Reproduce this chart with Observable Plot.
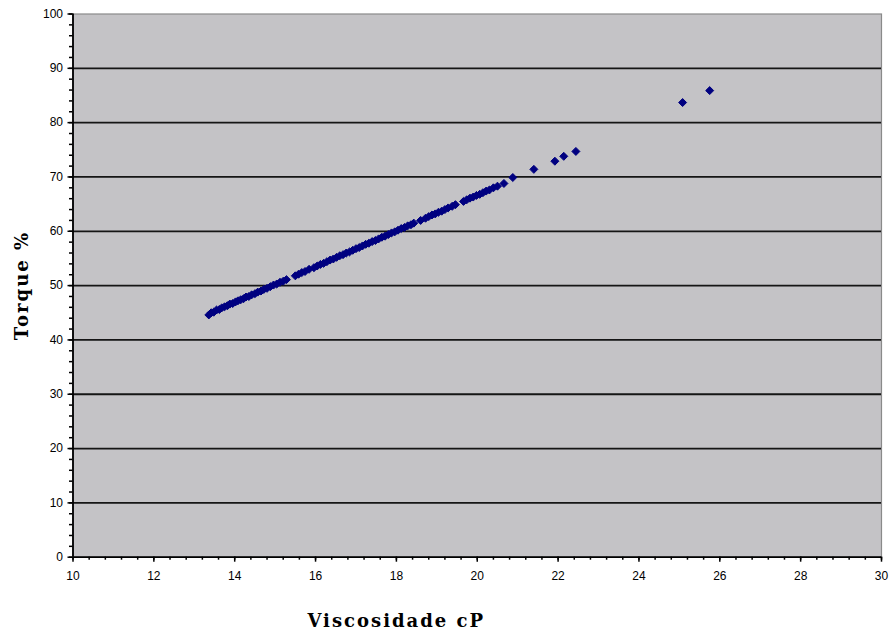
<!DOCTYPE html>
<html>
<head>
<meta charset="utf-8">
<script src="https://cdn.jsdelivr.net/npm/d3@7"></script>
<script src="https://cdn.jsdelivr.net/npm/@observablehq/plot@0.6"></script>
<style>
  html, body { margin: 0; padding: 0; background: #ffffff; }
  #chart { width: 890px; height: 636px; }
</style>
</head>
<body>
<div id="chart"></div>
<script>
// Viscosity (cP) readings
const viscosidade = [
  13.36, 13.42, 13.48, 13.55, 13.62, 13.68, 13.75, 13.82, 13.88, 13.95,
  14.02, 14.08, 14.15, 14.22, 14.28, 14.35, 14.42, 14.50, 14.57, 14.65,
  14.72, 14.80, 14.88, 14.96, 15.04, 15.12, 15.20, 15.28,
  15.50,
  15.58, 15.66, 15.74, 15.84,
  15.96, 16.04, 16.12, 16.20, 16.28, 16.36, 16.44, 16.52, 16.60, 16.68,
  16.76, 16.84, 16.92, 17.00, 17.08, 17.16, 17.24, 17.32, 17.40, 17.48,
  17.56, 17.64, 17.72, 17.80, 17.88, 17.96, 18.04, 18.12, 18.20, 18.28,
  18.36, 18.43,
  18.60,
  18.72, 18.80, 18.88, 18.96, 19.04, 19.12, 19.20, 19.28, 19.38, 19.46,
  19.66, 19.74, 19.82, 19.90, 19.98, 20.06, 20.14, 20.22, 20.30, 20.40,
  20.50,
  20.66, 20.88, 21.40, 21.92, 22.14, 22.44,
  25.08, 25.75
];

// Torque (%) measured at each viscosity
const torque = [
  44.6, 45.0, 45.1, 45.5, 45.6, 45.9, 46.1, 46.3, 46.6, 46.7,
  47.0, 47.2, 47.4, 47.6, 47.9, 48.0, 48.3, 48.5, 48.8, 49.0,
  49.3, 49.5, 49.8, 50.1, 50.3, 50.6, 50.8, 51.1,
  51.8,
  52.1, 52.4, 52.6, 53.0,
  53.3, 53.6, 53.9, 54.1, 54.4, 54.7, 54.9, 55.2, 55.5, 55.7,
  56.0, 56.2, 56.5, 56.8, 57.0, 57.3, 57.6, 57.8, 58.1, 58.3,
  58.6, 58.9, 59.1, 59.4, 59.7, 59.9, 60.2, 60.5, 60.7, 61.0,
  61.2, 61.5,
  62.0,
  62.4, 62.7, 63.0, 63.2, 63.5, 63.7, 64.0, 64.3, 64.6, 64.9,
  65.5, 65.8, 66.1, 66.3, 66.6, 66.8, 67.1, 67.4, 67.6, 68.0,
  68.3,
  68.8, 69.9, 71.4, 72.9, 73.8, 74.7,
  83.7, 85.9
];

const xMajor = d3.range(10, 31, 2);
const xMinor = d3.range(0, 51).map(i => 10 + i * 0.4);
const yMajor = d3.range(0, 101, 10);
const yMinor = d3.range(0, 101, 2);
const gridLines = d3.range(10, 91, 10);

const data = viscosidade.map((v, i) => ({viscosidade: v, torque: torque[i]}));

const tickFont = "Liberation Sans, Arial, sans-serif";
const titleFont = "DejaVu Serif, serif";

const chart = Plot.plot({
  width: 890,
  height: 636,
  marginLeft: 72.5,
  marginRight: 9,
  marginTop: 13.5,
  marginBottom: 79.3,
  style: {background: "#ffffff", fontFamily: tickFont, fontSize: "12px", color: "#000"},
  x: {domain: [10, 30]},
  y: {domain: [0, 100]},
  marks: [
    Plot.frame({fill: "#c4c3c6", stroke: "#8a8a8a", strokeWidth: 1.2}),
    Plot.ruleY(gridLines, {stroke: "#151515", strokeWidth: 1.8}),
    // axis lines
    Plot.ruleX([10], {stroke: "#000", strokeWidth: 1.8}),
    Plot.ruleY([0], {stroke: "#000", strokeWidth: 1.8}),
    // minor ticks
    Plot.axisY({ticks: yMinor, tickSize: 3.5, text: null, label: null, stroke: "#000", strokeWidth: 1.5}),
    Plot.axisX({ticks: xMinor, tickSize: 3, text: null, label: null, stroke: "#000", strokeWidth: 1.5}),
    // major ticks with labels
    Plot.axisY({ticks: yMajor, tickSize: 5, tickPadding: 5, tickFormat: d => d, label: null,
                stroke: "#000", strokeWidth: 1.5, fontSize: 12, fill: "#000"}),
    Plot.axisX({ticks: xMajor, tickSize: 5, tickPadding: 9, tickFormat: d => d, label: null,
                stroke: "#000", strokeWidth: 1.5, fontSize: 12, fill: "#000"}),
    // observations
    Plot.dot(data, {x: "viscosidade", y: "torque", symbol: "diamond2", r: 3.6,
                    fill: "#000080", stroke: "#000080", strokeWidth: 1}),
    // axis titles
    Plot.text(["Viscosidade cP"], {frameAnchor: "bottom", dx: -81, dy: 64,
      fontFamily: titleFont, fontWeight: "bold", fontSize: 18, fill: "#000",
      lineAnchor: "middle", textAnchor: "middle"}),
    Plot.text(["Torque %"], {frameAnchor: "left", dx: -50.5, rotate: -90,
      fontFamily: titleFont, fontWeight: "bold", fontSize: 18, fill: "#000",
      lineAnchor: "middle", textAnchor: "middle"})
  ]
});

chart.querySelectorAll("text").forEach(t => {
  if (t.textContent === "Viscosidade cP" || t.textContent === "Torque %") {
    t.style.letterSpacing = "2px";
  }
});

document.getElementById("chart").appendChild(chart);
</script>
</body>
</html>
